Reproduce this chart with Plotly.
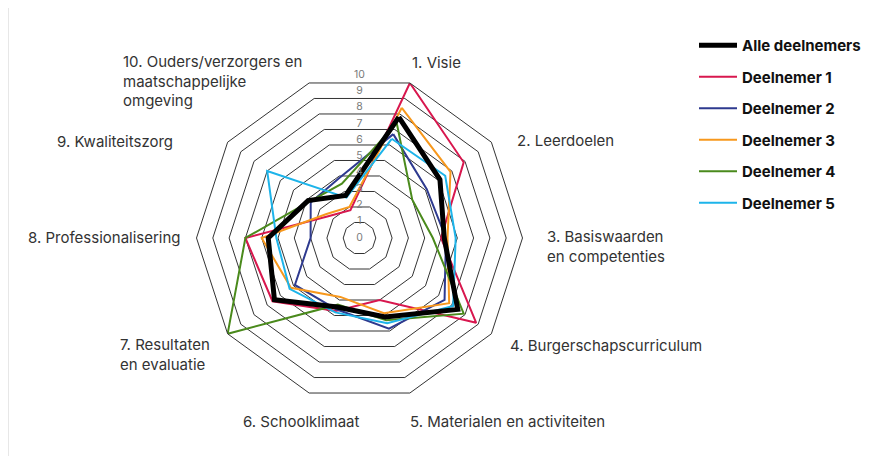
import plotly.graph_objects as go

# The page body adds an 8px margin, so the figure is drawn 8px in from the window edge.
OFF = 8
W, H = 882 - OFF, 456 - OFF

categories = [
    "1. Visie",
    "2. Leerdoelen",
    "3. Basiswaarden en competenties",
    "4. Burgerschapscurriculum",
    "5. Materialen en activiteiten",
    "6. Schoolklimaat",
    "7. Resultaten en evaluatie",
    "8. Professionalisering",
    "9. Kwaliteitszorg",
    "10. Ouders/verzorgers en maatschappelijke omgeving",
]
category_labels = [
    "1. Visie",
    "2. Leerdoelen",
    "3. Basiswaarden<br>en competenties",
    "4. Burgerschapscurriculum",
    "5. Materialen en activiteiten",
    "6. Schoolklimaat",
    "7. Resultaten<br>en evaluatie",
    "8. Professionalisering",
    "9. Kwaliteitszorg",
    "10. Ouders/verzorgers en<br>maatschappelijke<br>omgeving",
]

series_names = ["Alle deelnemers", "Deelnemer 1", "Deelnemer 2", "Deelnemer 3", "Deelnemer 4", "Deelnemer 5"]
alle = [7.8, 6.1, 5.2, 7.45, 5.1, 4.45, 6.45, 5.6, 3.9, 2.75]
deelnemer1 = [10.0, 7.9, 5.0, 8.85, 4.0, 4.7, 6.6, 7.0, 2.3, 1.8]
deelnemer2 = [6.7, 5.1, 5.3, 6.45, 5.85, 4.6, 4.9, 3.0, 3.7, 3.9]
deelnemer3 = [8.4, 6.9, 5.4, 6.8, 4.85, 3.8, 5.2, 6.0, 2.5, 2.0]
deelnemer4 = [7.4, 4.0, 4.5, 7.9, 5.3, 4.3, 10.0, 7.0, 3.8, 3.5]
deelnemer5 = [6.4, 6.5, 5.9, 7.1, 5.5, 4.8, 5.3, 5.1, 7.0, 2.6]

radial_ticks = [0, 1, 2, 3, 4, 5, 6, 7, 8, 9, 10]
radial_tick_labels = [str(v) for v in radial_ticks]

# styles
FONT = "Inter"
colors = ["#000000", "#D8174E", "#2E3A8F", "#F7981D", "#4A8A1C", "#1DB4EA"]
widths = [5, 2, 2, 2, 2, 2]
series_values = [alle, deelnemer1, deelnemer2, deelnemer3, deelnemer4, deelnemer5]


def fx(x):
    return (x - OFF) / W


def fy(y):
    return 1 - (y - OFF) / H


fig = go.Figure()

# participants first, overall average drawn on top
draw_order = [1, 2, 3, 4, 5, 0]
for i in draw_order:
    vals = series_values[i]
    fig.add_trace(go.Scatterpolar(
        r=vals + [vals[0]],
        theta=categories + [categories[0]],
        mode="lines",
        name=series_names[i],
        line=dict(color=colors[i], width=widths[i]),
        legendrank=i + 1,
        legendgroup=series_names[i],
        subplot="polar",
    ))

# radial tick labels along the vertical through the centre
fig.add_trace(go.Scatterpolar(
    r=radial_ticks,
    theta=[90] * len(radial_ticks),
    mode="text",
    text=radial_tick_labels,
    textposition="middle center",
    textfont=dict(size=10.5, color="#7a7a7a", family=FONT),
    showlegend=False,
    hoverinfo="skip",
    cliponaxis=False,
    subplot="polar2",
))

# window-pixel geometry of the radar
cx, cy, R = 359.5, 238, 163
dom_x = [fx(cx - R), fx(cx + R)]
dom_y = [fy(cy + R), fy(cy - R)]

# category label placement (window pixels: x, y, xanchor)
label_pos = [
    (410, 62, "left"),
    (515, 140, "left"),
    (545, 246, "left"),
    (508, 345, "left"),
    (408, 421, "left"),
    (362, 421, "right"),
    (118, 354, "left"),
    (183, 237, "right"),
    (175, 141, "right"),
    (121, 81, "left"),
]
annotations = []
for text, (px, py, anchor) in zip(category_labels, label_pos):
    annotations.append(dict(
        x=fx(px), y=fy(py), xref="paper", yref="paper",
        text=text, showarrow=False, xanchor=anchor, yanchor="middle",
        align="left", font=dict(size=15, color="#333333", family=FONT),
    ))

fig.update_layout(
    width=W, height=H,
    margin=dict(l=0, r=0, t=0, b=0),
    paper_bgcolor="white",
    plot_bgcolor="white",
    font=dict(family=FONT, size=15, color="#333333"),
    polar=dict(
        domain=dict(x=dom_x, y=dom_y),
        bgcolor="rgba(0,0,0,0)",
        gridshape="linear",
        angularaxis=dict(
            type="category", rotation=72, direction="clockwise",
            showgrid=False, showticklabels=False, ticks="",
            showline=True, linecolor="#333333", linewidth=1,
        ),
        radialaxis=dict(
            range=[0, 10], tick0=0, dtick=1, showticklabels=False, ticks="",
            showline=False, gridcolor="#333333", gridwidth=1,
        ),
    ),
    polar2=dict(
        domain=dict(x=dom_x, y=dom_y),
        bgcolor="rgba(0,0,0,0)",
        radialaxis=dict(visible=False, range=[0, 10]),
        angularaxis=dict(visible=False, rotation=0, direction="counterclockwise"),
    ),
    legend=dict(
        x=fx(694), y=fy(29), xanchor="left", yanchor="top",
        font=dict(size=15, color="#111111", family=FONT, weight="bold"),
        tracegroupgap=9, itemwidth=38, bgcolor="rgba(0,0,0,0)",
    ),
    annotations=annotations,
    shapes=[
        dict(type="line", xref="paper", yref="paper", x0=fx(8), x1=fx(8), y0=0, y1=1,
             line=dict(color="#cfcfcf", width=1)),
        dict(type="line", xref="paper", yref="paper", x0=fx(879), x1=fx(879), y0=0, y1=1,
             line=dict(color="#cfcfcf", width=1)),
    ],
)

fig.write_html("out.html")
